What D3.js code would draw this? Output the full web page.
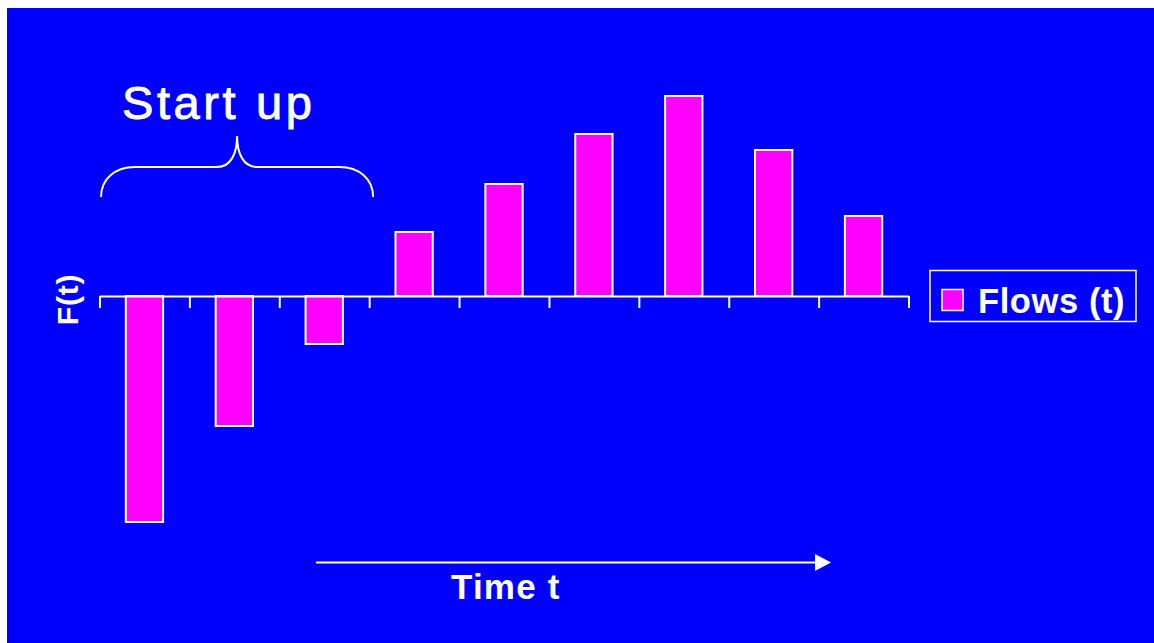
<!DOCTYPE html>
<html>
<head>
<meta charset="utf-8">
<script src="https://cdn.jsdelivr.net/npm/d3@7"></script>
<style>
  html, body { margin: 0; padding: 0; background: #ffffff; }
  svg { display: block; }
  text { font-family: "Liberation Sans", Arial, sans-serif; fill: #ffffff; }
</style>
</head>
<body>
<svg id="chart" width="1154" height="643"></svg>
<script>
// Cash flows per period: three start-up outflows, then returns
const periods = [1, 2, 3, 4, 5, 6, 7, 8, 9];
const flows = [-113, -65, -24, 32, 56, 81, 100, 73, 40];
const seriesName = "Flows (t)";
const yLabel = "F(t)";
const xLabel = "Time t";
const startLabel = "Start up";

const svg = d3.select("#chart");

// slide background
svg.append("rect")
  .attr("x", 7).attr("y", 8)
  .attr("width", 1147).attr("height", 635)
  .attr("fill", "#0000ff");

const x0 = 99.5, x1 = 908.5;
const x = d3.scaleBand()
  .domain(periods)
  .range([x0, x1])
  .paddingInner(0.585)
  .paddingOuter(0.2925);

const y = d3.scaleLinear()
  .domain([-115, 105])
  .range([526, 86]);

// period boundaries for the tick marks
const tickScale = d3.scaleLinear().domain([0, periods.length]).range([x0, x1]);

// bars
svg.append("g")
  .selectAll("rect")
  .data(periods)
  .join("rect")
  .attr("x", (d) => x(d))
  .attr("width", x.bandwidth())
  .attr("y", (d, i) => Math.min(y(flows[i]), y(0)))
  .attr("height", (d, i) => Math.abs(y(flows[i]) - y(0)))
  .attr("fill", "#ff00ff")
  .attr("stroke", "#ffffff")
  .attr("stroke-width", 2);

// horizontal axis with downward ticks between periods
const axis = svg.append("g")
  .attr("transform", `translate(0,${y(0)})`)
  .call(d3.axisBottom(tickScale)
    .tickValues(d3.range(periods.length + 1))
    .tickFormat("")
    .tickSizeInner(12)
    .tickSizeOuter(0));
axis.selectAll("path, line")
  .attr("stroke", "#ffffff")
  .attr("stroke-width", 2);

// vertical axis title
svg.append("text")
  .attr("transform", `translate(78,${y(0) + 3.5}) rotate(-90)`)
  .attr("text-anchor", "middle")
  .attr("font-size", 30)
  .attr("font-weight", "bold")
  .attr("letter-spacing", 0.8)
  .text(yLabel);

// brace over the start-up periods
const bx0 = x0 + 1.5, bx1 = tickScale(3) + 4, bm = (bx0 + bx1) / 2;
const by = 167, byEnd = 197, byTip = 136;
svg.append("path")
  .attr("d", `M${bx0},${byEnd} C${bx0},${by + 12} ${bx0 + 14},${by} ${bx0 + 34},${by}
    L${bm - 20},${by} C${bm - 6},${by} ${bm},${by - 14} ${bm},${byTip}
    C${bm},${by - 14} ${bm + 6},${by} ${bm + 20},${by}
    L${bx1 - 34},${by} C${bx1 - 14},${by} ${bx1},${by + 12} ${bx1},${byEnd}`)
  .attr("fill", "none")
  .attr("stroke", "#ffffff")
  .attr("stroke-width", 2);

svg.append("text")
  .attr("x", 122).attr("y", 118.5)
  .attr("font-size", 47)
  .attr("letter-spacing", 3.6)
  .attr("stroke", "#ffffff")
  .attr("stroke-width", 0.9)
  .text(startLabel);

// time arrow
const ay = 562.5;
svg.append("line")
  .attr("x1", 316).attr("x2", 816)
  .attr("y1", ay).attr("y2", ay)
  .attr("stroke", "#ffffff")
  .attr("stroke-width", 2);
svg.append("path")
  .attr("d", `M815,${ay - 8.5} L831,${ay} L815,${ay + 8.5} Z`)
  .attr("fill", "#ffffff");

svg.append("text")
  .attr("x", 451).attr("y", 598.5)
  .attr("font-size", 35)
  .attr("font-weight", "bold")
  .attr("letter-spacing", 1.2)
  .text(xLabel);

// legend
const legend = svg.append("g");
legend.append("rect")
  .attr("x", 930).attr("y", 270.5)
  .attr("width", 206).attr("height", 51)
  .attr("fill", "none")
  .attr("stroke", "#ffffff")
  .attr("stroke-width", 1.5);
legend.append("rect")
  .attr("x", 942).attr("y", 289.5)
  .attr("width", 21).attr("height", 21)
  .attr("fill", "#ff00ff")
  .attr("stroke", "#ffffff")
  .attr("stroke-width", 1.5);
legend.append("text")
  .attr("x", 978).attr("y", 312.5)
  .attr("font-size", 34.5)
  .attr("font-weight", "bold")
  .attr("letter-spacing", 0.6)
  .text(seriesName);
</script>
</body>
</html>
